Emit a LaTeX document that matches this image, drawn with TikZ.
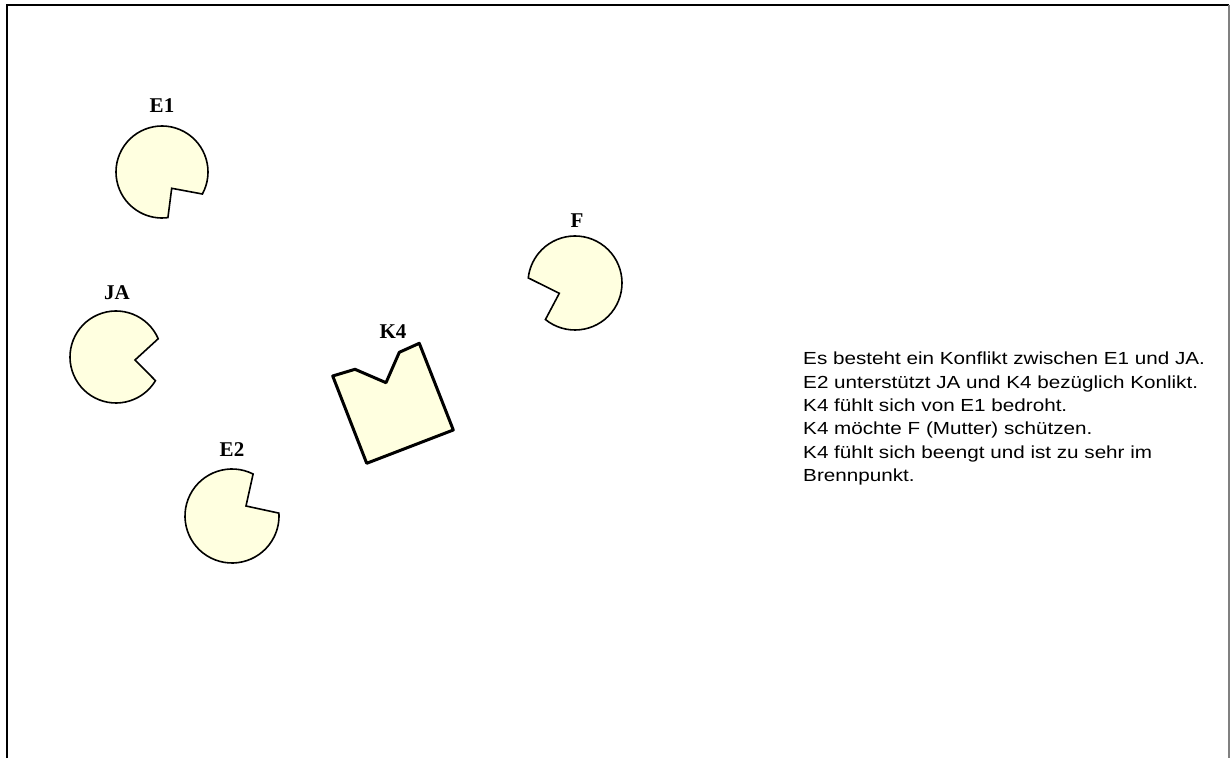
\documentclass[tikz,border=0pt]{standalone}
\usepackage{fontspec}
\setmainfont{Liberation Serif}
\newfontfamily\arialfont{Liberation Sans}
\definecolor{pacfill}{RGB}{255,255,224}
\begin{document}
\begin{tikzpicture}[x=1pt,y=1pt,
  pac/.style={draw=black,line width=1.6pt,fill=pacfill,line join=miter},
  kbox/.style={draw=black,line width=3pt,fill=pacfill,line join=round},
  lbl/.style={font=\fontsize{21}{24}\selectfont\bfseries,inner sep=0pt},
  notes/.style={font=\arialfont\fontsize{17.5}{23.3}\selectfont,align=left,anchor=north west,inner sep=0pt,xscale=1.18,transform shape}]
\useasboundingbox (0,0) rectangle (1231,758);
% frame
\draw[line width=2pt] (7,0) -- (7,753) -- (1229,753);
\draw[line width=1.5pt,gray] (1229,753) -- (1229,0);
% E1
\draw[pac] (162,586) ++(-28.6:46) arc[start angle=-28.6,end angle=277.4,radius=46] -- (171.7,569.7) -- cycle;
\node[lbl] (e1) at (162,652) {E1};
% JA
\draw[pac] (116,401) ++(23.4:46) arc[start angle=23.4,end angle=329.1,radius=46] -- (135,398) -- cycle;
\node[lbl] (ja) at (117,465) {JA};
% E2
\draw[pac] (232,242) ++(63.3:47) arc[start angle=63.3,end angle=363.5,radius=47] -- (246,252) -- cycle;
\node[lbl] (e2) at (232,308) {E2};
% F
\draw[pac] (575,475) ++(231:47) arc[start angle=231,end angle=533.8,radius=47] -- (559.3,464.7) -- cycle;
\node[lbl] (f) at (577,537) {F};
% K4
\draw[kbox] (332.7,382) -- (355,388.7) -- (386,375.3) -- (399.3,405.7) -- (419.3,414.7) -- (453.3,328) -- (366.7,294.7) -- cycle;
\node[lbl] (k4) at (393,426) {K4};
% text
\node[notes] (txt) at (803,406) {Es besteht ein Konflikt zwischen E1 und JA.\\
E2 unterstützt JA und K4 bezüglich Konlikt.\\
K4 fühlt sich von E1 bedroht.\\
K4 möchte F (Mutter) schützen.\\
K4 fühlt sich beengt und ist zu sehr im\\
Brennpunkt.};
\end{tikzpicture}
\end{document}
